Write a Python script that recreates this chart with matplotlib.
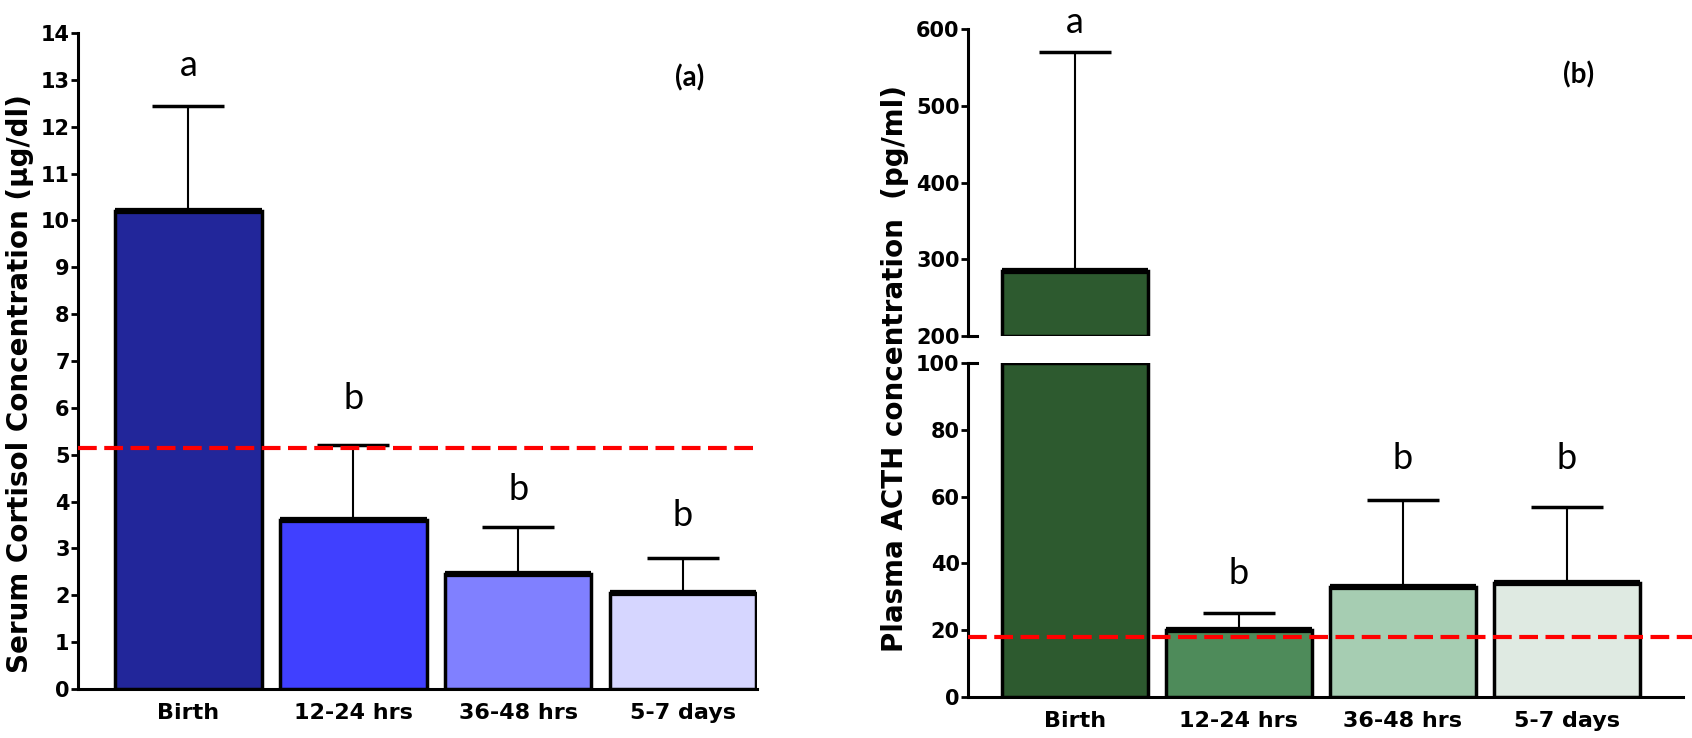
import numpy as np
import matplotlib.pyplot as plt
from matplotlib.transforms import blended_transform_factory

# =========================
# DATA
# =========================
groups = ["Birth", "12-24 hrs", "36-48 hrs", "5-7 days"]

cortisol_mean = [10.2, 3.6, 2.45, 2.05]
cortisol_top = [12.45, 5.2, 3.45, 2.8]
cortisol_ref = 5.15
cortisol_letters = ["a", "b", "b", "b"]
cortisol_letter_y = [13.3, 6.2, 4.25, 3.7]

acth_mean = [285, 20, 33, 34]
acth_top = [570, 25, 59, 57]
acth_ref = 18
acth_letters = ["a", "b", "b", "b"]
acth_letter_y = [609, 37, 71.5, 71.5]

blue_colors = ["#22269a", "#4040ff", "#8080ff", "#d6d6ff"]
green_colors = ["#2d5a2f", "#4e8b5a", "#a6cdb2", "#dfeae2"]

# =========================
# STYLE
# =========================
TICK_FONT = ["DejaVu Sans"]
LABEL_FONT = ["DejaVu Sans"]
LETTER_FONT = ["Lato", "DejaVu Sans"]
RED_DASH = (0, (4.5, 1.8))

x = np.arange(len(groups))
bar_w = 0.89
fig = plt.figure(figsize=(16.92, 7.38), dpi=100)


def fmt_tick_labels(labels, size):
    for lab in labels:
        lab.set_family(TICK_FONT)
        lab.set_fontweight("bold")
        lab.set_fontsize(size)


def style_axis(ax, show_bottom=True):
    ax.spines["top"].set_visible(False)
    ax.spines["right"].set_visible(False)
    ax.spines["left"].set_linewidth(2.2)
    ax.spines["bottom"].set_linewidth(2.2)
    if not show_bottom:
        ax.spines["bottom"].set_visible(False)
        ax.tick_params(axis="x", bottom=False, labelbottom=False)
    ax.tick_params(axis="y", direction="out", length=5, width=2, pad=1)
    ax.tick_params(axis="x", length=0, pad=10)
    fmt_tick_labels(ax.get_yticklabels(), 15)


def draw_bars(ax, means, tops, colors, bottom=0):
    means = np.array(means, dtype=float)
    tops = np.array(tops, dtype=float)
    ax.bar(x, means - bottom, bottom=bottom, width=bar_w, color=colors,
           edgecolor="black", linewidth=2.5, zorder=3)
    # thicker top edge like the original
    ax.hlines(means, x - bar_w / 2, x + bar_w / 2, color="black",
              linewidth=4.5, zorder=4)
    ax.errorbar(x, means, yerr=[np.zeros_like(means), tops - means],
                fmt="none", ecolor="black", elinewidth=1.5, capsize=26,
                capthick=2.5, zorder=2)


# =========================
# PANEL (a) - CORTISOL
# =========================
ax1 = fig.add_axes([0.0461, 0.0664, 0.4014, 0.889])
draw_bars(ax1, cortisol_mean, cortisol_top, blue_colors)
ax1.set_xlim(-0.67, 3.45)
ax1.set_ylim(0, 14)
ax1.set_yticks(range(0, 15))
ax1.set_xticks(x)
ax1.set_xticklabels(groups)
style_axis(ax1)
fmt_tick_labels(ax1.get_xticklabels(), 16)
ax1.axhline(cortisol_ref, color="#ff0000", linestyle=RED_DASH,
            linewidth=3, zorder=5)
for xi, t, yy in zip(x, cortisol_letters, cortisol_letter_y):
    ax1.text(xi, yy, t, ha="center", va="center", fontsize=26,
             family=LETTER_FONT)
ax1.text(3.04, 13.05, "(a)", ha="center", va="center", fontsize=20,
         fontweight="bold", family=LETTER_FONT)
fig.text(0.012, 0.48, "Serum Cortisol Concentration (\u00b5g/dl)",
         rotation=90, ha="center", va="center", fontsize=20,
         fontweight="bold", family=LABEL_FONT)

# =========================
# PANEL (b) - ACTH (broken axis)
# =========================
left_b = 0.5721
width_b = 0.4226
ax_lo = fig.add_axes([left_b, 0.0556, width_b, 0.4525])
ax_hi = fig.add_axes([left_b, 0.5447, width_b, 0.416])

acth_mean_arr = np.array(acth_mean, dtype=float)
acth_top_arr = np.array(acth_top, dtype=float)

# lower part: bars cut at 100
lo_heights = np.minimum(acth_mean_arr, 100)
ax_lo.bar(x, lo_heights, width=bar_w, color=green_colors, edgecolor="black",
          linewidth=2.5, zorder=3)
lo_mask = acth_mean_arr <= 100
ax_lo.hlines(acth_mean_arr[lo_mask], x[lo_mask] - bar_w / 2,
             x[lo_mask] + bar_w / 2, color="black", linewidth=4.5, zorder=4)
ax_lo.errorbar(x[lo_mask], acth_mean_arr[lo_mask],
               yerr=[np.zeros(lo_mask.sum()),
                     acth_top_arr[lo_mask] - acth_mean_arr[lo_mask]],
               fmt="none", ecolor="black", elinewidth=1.5, capsize=26,
               capthick=2.5, zorder=2)

# upper part: bars above the break
hi_mask = acth_mean_arr > 200
ax_hi.bar(x[hi_mask], acth_mean_arr[hi_mask] - 200, bottom=200, width=bar_w,
          color=np.array(green_colors)[hi_mask], edgecolor="black",
          linewidth=2.5, zorder=3)
ax_hi.hlines(acth_mean_arr[hi_mask], x[hi_mask] - bar_w / 2,
             x[hi_mask] + bar_w / 2, color="black", linewidth=4.5, zorder=4)
ax_hi.errorbar(x[hi_mask], acth_mean_arr[hi_mask],
               yerr=[np.zeros(hi_mask.sum()),
                     acth_top_arr[hi_mask] - acth_mean_arr[hi_mask]],
               fmt="none", ecolor="black", elinewidth=1.5, capsize=26,
               capthick=2.5, zorder=2)

for ax in (ax_lo, ax_hi):
    ax.set_xlim(-0.65, 3.71)
ax_lo.set_ylim(0, 100)
ax_lo.set_yticks(range(0, 101, 20))
ax_hi.set_ylim(200, 600)
ax_hi.set_yticks(range(200, 601, 100))
ax_lo.set_xticks(x)
ax_lo.set_xticklabels(groups)
style_axis(ax_lo)
style_axis(ax_hi, show_bottom=False)
fmt_tick_labels(ax_lo.get_xticklabels(), 16)

# small caps on the spine at the break
tr_hi = blended_transform_factory(ax_hi.transAxes, ax_hi.transData)
ax_hi.plot([0, 0.012], [200, 200], color="black", lw=2.2,
           transform=tr_hi, clip_on=False)
tr_lo = blended_transform_factory(ax_lo.transAxes, ax_lo.transData)
ax_lo.plot([0, 0.012], [100, 100], color="black", lw=2.2,
           transform=tr_lo, clip_on=False)

ax_lo.axhline(acth_ref, xmin=0, xmax=1.02, color="#ff0000",
              linestyle=RED_DASH, linewidth=3, zorder=5, clip_on=False)

for xi, t, yy in zip(x, acth_letters, acth_letter_y):
    target = ax_hi if yy > 200 else ax_lo
    target.text(xi, yy, t, ha="center", va="center", fontsize=26,
                family=LETTER_FONT, clip_on=False)
ax_hi.text(3.07, 540, "(b)", ha="center", va="center", fontsize=20,
           fontweight="bold", family=LETTER_FONT)

fig.text(0.529, 0.5, "Plasma ACTH concentration  (pg/ml)",
         rotation=90, ha="center", va="center", fontsize=20,
         fontweight="bold", family=LABEL_FONT)

plt.savefig("out.png", dpi=100)
